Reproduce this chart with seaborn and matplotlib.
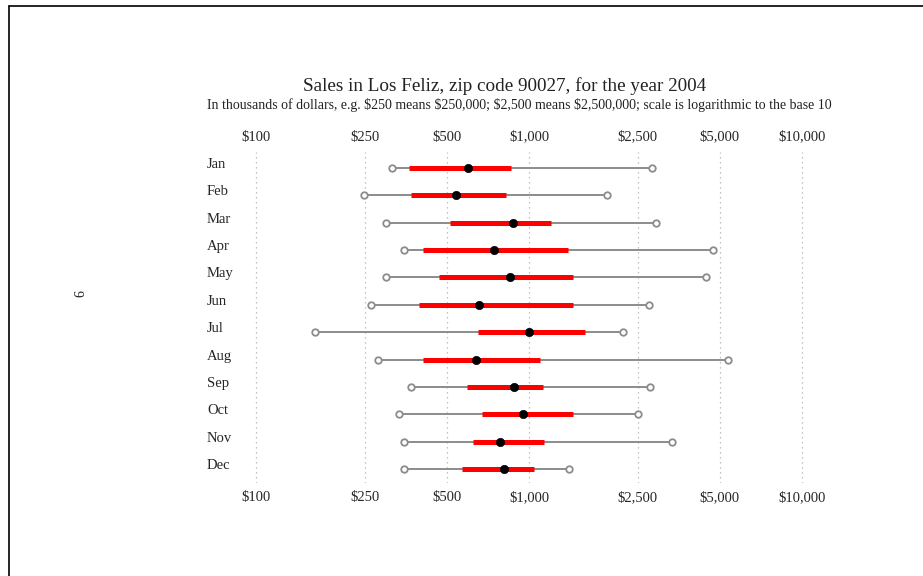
import matplotlib
matplotlib.use("Agg")
import matplotlib.pyplot as plt
from matplotlib.lines import Line2D
from matplotlib.ticker import NullLocator
import numpy as np
import pandas as pd
import seaborn as sns

# sale prices in thousands of dollars
months = ["Jan", "Feb", "Mar", "Apr", "May", "Jun",
          "Jul", "Aug", "Sep", "Oct", "Nov", "Dec"]
low = [314, 249, 299, 349, 299, 264, 165, 279, 369, 333, 348, 349]
q1 = [363, 370, 512, 410, 468, 397, 652, 408, 591, 673, 622, 570]
median = [599, 539, 871, 746, 850, 654, 1000, 638, 884, 953, 781, 810]
q3 = [859, 824, 1200, 1386, 1450, 1450, 1608, 1100, 1123, 1450, 1132, 1040]
high = [2815, 1931, 2912, 4733, 4462, 2752, 2210, 5344, 2768, 2507, 3340, 1405]

tick_vals = [100, 250, 500, 1000, 2500, 5000, 10000]
tick_labels = ["$100", "$250", "$500", "$1,000", "$2,500", "$5,000", "$10,000"]

df = pd.DataFrame({"month": months, "low": low, "q1": q1, "median": median,
                   "q3": q3, "high": high})
df["row"] = np.arange(len(df))
ends = pd.concat([df[["row", "low"]].rename(columns={"low": "value"}),
                  df[["row", "high"]].rename(columns={"high": "value"})])

sns.set_style("white")
plt.rcParams["font.family"] = ["Liberation Serif", "DejaVu Serif"]
plt.rcParams["text.color"] = "#222222"
plt.rcParams["text.parse_math"] = False

W, H = 923, 576
fig = plt.figure(figsize=(W / 100, H / 100), dpi=100)
# 100 -> 256px, 10000 -> 802px ; pad 10px each side
px_dec = (802 - 256) / 2
pad = 10
top, bottom = 152, 483
ax = fig.add_axes([(256 - pad) / W, 1 - bottom / H, (802 - 256 + 2 * pad) / W, (bottom - top) / H])

# whiskers (min..max) and interquartile range
ax.hlines(df["row"], df["low"], df["high"], color="#8c8c8c", lw=1.4, zorder=2)
ax.hlines(df["row"], df["q1"], df["q3"], color="#ff0000", lw=3.6, zorder=3)
sns.scatterplot(data=ends, x="value", y="row", ax=ax, s=22, marker="o",
                facecolor="white", edgecolor="#8c8c8c", linewidth=1.3, zorder=4)
sns.scatterplot(data=df, x="median", y="row", ax=ax, s=36, color="black",
                edgecolor="black", zorder=5)

ax.set_xscale("log")
ax.set_xlim(10 ** (2 - pad / px_dec), 10 ** (4 + pad / px_dec))
row_h = (469 - 168) / 11
ax.set_ylim(11 + (bottom - 469) / row_h, -(168 - top) / row_h)
ax.set_xticks(tick_vals)
ax.set_xticklabels(tick_labels)
ax.xaxis.set_minor_locator(NullLocator())
ax.set_yticks(df["row"])
ax.set_yticklabels(months)
ax.set_xlabel("")
ax.set_ylabel("")
ax.grid(axis="x", color="#b0b0b0", linestyle=(0, (1, 3)), lw=0.9)
ax.grid(axis="y", visible=False)
for s in ax.spines.values():
    s.set_visible(False)
ax.tick_params(axis="x", length=0, top=True, labeltop=True, bottom=True,
               labelbottom=True, labelsize=10.5, pad=6)
ax.tick_params(axis="y", length=0, labelsize=10.5, pad=(256 - pad - 207) * 0.72)
for lbl in ax.get_yticklabels():
    lbl.set_horizontalalignment("left")
    lbl.set_verticalalignment("baseline")

fig.text(505 / W, 1 - 86 / H, "Sales in Los Feliz, zip code 90027, for the year 2004",
         ha="center", va="center", fontsize=13.8)
fig.text(519 / W, 1 - 105 / H,
         "In thousands of dollars, e.g. $250 means $250,000; $2,500 means $2,500,000; "
         "scale is logarithmic to the base 10",
         ha="center", va="center", fontsize=10)

# page frame and page number
fig.add_artist(Line2D([9 / W, 9 / W], [0, 1 - 6 / H], color="black", lw=1.2))
fig.add_artist(Line2D([9 / W, 1], [1 - 6 / H, 1 - 6 / H], color="black", lw=1.2))
fig.text(76 / W, 1 - 293 / H, "9", rotation=-90, ha="center", va="center", fontsize=10)

fig.savefig("out.png", dpi=100)
